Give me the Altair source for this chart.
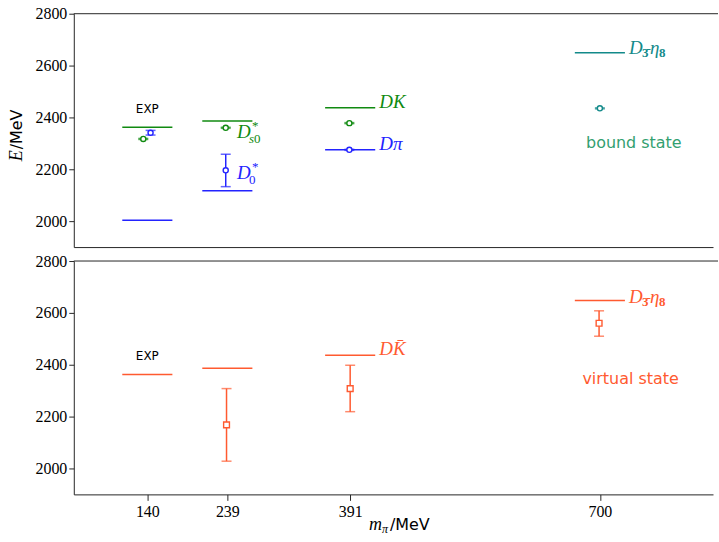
import altair as alt
import pandas as pd

# ---------------- data ----------------
m_pi_ticks = [140, 239, 391, 700]
E_ticks = [2000, 2200, 2400, 2600, 2800]

GREEN = "#108a10"
BLUE = "#2323ff"
TEAL = "#138a8a"
ORANGE = "#ff5a30"
BOUND = "#33a070"

# top panel: thresholds (horizontal lines)
thr_top_x = [140, 140, 239, 239, 391, 391, 700]
thr_top_E = [2362, 2003, 2386, 2117, 2437, 2275, 2649]
thr_top_c = [GREEN, BLUE, GREEN, BLUE, GREEN, BLUE, TEAL]

# top panel: poles with errors
pole_top_x = [135, 144, 237, 237, 390, 390, 700]
pole_top_E = [2317, 2341, 2360, 2196, 2378, 2275, 2435]
pole_top_lo = [2315, 2332, 2358, 2133, 2376, 2273, 2433]
pole_top_hi = [2319, 2350, 2362, 2258, 2380, 2277, 2437]
pole_top_c = [GREEN, BLUE, GREEN, BLUE, GREEN, BLUE, TEAL]

# bottom panel
thr_bot_x = [140, 239, 391, 700]
thr_bot_E = [2362, 2386, 2437, 2648]
pole_bot_x = [238, 391, 699]
pole_bot_E = [2168, 2308, 2560]
pole_bot_lo = [2028, 2219, 2510]
pole_bot_hi = [2308, 2398, 2608]

HALF = 31  # half length of threshold lines (MeV on x axis)

xs = alt.Scale(domain=[49, 840], nice=False, zero=False)
ys = alt.Scale(domain=[1900, 2800], nice=False, zero=False)

W, H = 641, 234
SERIF = "Liberation Serif"
SANS = "DejaVu Sans"
AX = "#262626"

y_axis = alt.Axis(values=E_ticks, format="d", labelFont=SERIF, labelFontSize=16,
                  labelColor="black", tickSize=5, labelPadding=2, grid=False,
                  domainColor=AX, tickColor=AX, title=None, orient="left")
x_axis_bottom = alt.Axis(values=m_pi_ticks, format="d", labelFont=SERIF, labelFontSize=16,
                         labelColor="black", tickSize=6, labelPadding=3, grid=False,
                         domainColor=AX, tickColor=AX, title=None, orient="bottom")
x_axis_top = alt.Axis(labels=False, ticks=False, grid=False, domainColor=AX, title=None,
                      orient="bottom")


def panel(thr_x, thr_E, thr_c, p_x, p_E, p_lo, p_hi, p_c, shape, x_axis, text_specs):
    def X(field):
        return alt.X(field, scale=xs, axis=x_axis)

    def Y(field):
        return alt.Y(field, scale=ys, axis=y_axis)

    col = alt.Color("c:N", scale=None)

    thr = pd.DataFrame({"x1": [v - HALF for v in thr_x], "x2": [v + HALF for v in thr_x],
                        "E": thr_E, "c": thr_c})
    poles = pd.DataFrame({"x": p_x, "E": p_E, "lo": p_lo, "hi": p_hi, "c": p_c})

    layers = [
        alt.Chart(thr).mark_rule(strokeWidth=1.5).encode(
            x=X("x1:Q"), x2="x2:Q", y=Y("E:Q"), color=col),
        alt.Chart(pd.DataFrame({"E": [2800]})).mark_rule(color=AX, strokeWidth=1).encode(
            x=alt.value(0), x2=alt.value(W + 5), y=Y("E:Q")),
        alt.Chart(poles).mark_rule(strokeWidth=1.5).encode(
            x=X("x:Q"), y=Y("lo:Q"), y2="hi:Q", color=col),
        alt.Chart(poles).mark_tick(orient="horizontal", size=10, thickness=1.5).encode(
            x=X("x:Q"), y=Y("lo:Q"), color=col),
        alt.Chart(poles).mark_tick(orient="horizontal", size=10, thickness=1.5).encode(
            x=X("x:Q"), y=Y("hi:Q"), color=col),
        alt.Chart(poles).mark_point(shape=shape, size=26 if shape == "circle" else 34,
                                    filled=False, fill="white", fillOpacity=1,
                                    strokeWidth=1.4, opacity=1).encode(
            x=X("x:Q"), y=Y("E:Q"), color=col),
    ]
    for kind, a, b, text, props in text_specs:
        if kind == "data":
            df = pd.DataFrame({"x": [a], "E": [b], "t": [text]})
            layers.append(alt.Chart(df).mark_text(**props).encode(
                x=X("x:Q"), y=Y("E:Q"), text="t:N"))
        else:
            df = pd.DataFrame({"t": [text]})
            layers.append(alt.Chart(df).mark_text(**props).encode(
                x=alt.value(a), y=alt.value(b), text="t:N"))
    return alt.layer(*layers).properties(width=W, height=H)


def main(x, E, text, color, dx=0):
    return ("data", x, E, text, dict(font=SERIF, fontStyle="italic", fontSize=19, color=color,
                                     align="left", baseline="alphabetic", dx=dx))


def sub(x, E, text, color, dx, dy=5, bold=False, italic=False):
    return ("data", x, E, text, dict(font=SERIF, fontStyle="italic" if italic else "normal",
                                     fontWeight="bold" if bold else "normal", fontSize=13,
                                     color=color, align="left", baseline="alphabetic",
                                     dx=dx, dy=dy))


def label(x, E, text, color, size):
    return ("data", x, E, text, dict(font=SANS, fontSize=size, color=color, align="center",
                                     baseline="middle"))


def fixed(px, py, text, **props):
    return ("fixed", px, py, text, props)


top_texts = [
    label(140, 2433, "EXP", "black", 12),
    main(251, 2322, "D", GREEN),
    sub(251, 2322, "*", GREEN, dx=15, dy=-8),
    sub(251, 2322, "s", GREEN, dx=12, dy=5, italic=True),
    sub(251, 2322, "0", GREEN, dx=17, dy=5),
    main(251, 2161, "D", BLUE),
    sub(251, 2161, "*", BLUE, dx=15, dy=-8),
    sub(251, 2161, "0", BLUE, dx=12, dy=5),
    main(427, 2437, "DK", GREEN),
    main(427, 2276, "Dπ", BLUE),
    main(736, 2645, "D", TEAL),
    sub(736, 2645, "3\u0304", TEAL, dx=13, dy=3, bold=True),
    main(736, 2645, "η", TEAL, dx=21),
    sub(736, 2645, "8", TEAL, dx=30, dy=3, bold=True),
    label(742, 2301, "bound state", BOUND, 16),
    fixed(-57, 148, "E", font=SERIF, fontStyle="italic", fontSize=18, angle=270,
          align="left", baseline="middle", color="black"),
    fixed(-57, 136, "/MeV", font=SANS, fontSize=16, angle=270,
          align="left", baseline="middle", color="black"),
]

bot_texts = [
    label(140, 2432, "EXP", "black", 12),
    main(427, 2438, "DK\u0304", ORANGE),
    main(736, 2640, "D", ORANGE),
    sub(736, 2640, "3\u0304", ORANGE, dx=13, dy=3, bold=True),
    main(736, 2640, "η", ORANGE, dx=21),
    sub(736, 2640, "8", ORANGE, dx=30, dy=3, bold=True),
    label(738, 2345, "virtual state", ORANGE, 16),
    fixed(296, 270, "m", font=SERIF, fontStyle="italic", fontSize=18, align="left",
          baseline="alphabetic", color="black"),
    fixed(309, 273, "π", font=SERIF, fontStyle="italic", fontSize=12, align="left",
          baseline="alphabetic", color="black"),
    fixed(317, 270, "/MeV", font=SANS, fontSize=16, align="left",
          baseline="alphabetic", color="black"),
]

top = panel(thr_top_x, thr_top_E, thr_top_c, pole_top_x, pole_top_E, pole_top_lo,
            pole_top_hi, pole_top_c, "circle", x_axis_top, top_texts)
bottom = panel(thr_bot_x, thr_bot_E, [ORANGE] * len(thr_bot_x), pole_bot_x, pole_bot_E,
               pole_bot_lo, pole_bot_hi, [ORANGE] * len(pole_bot_x), "square",
               x_axis_bottom, bot_texts)

chart = alt.vconcat(top, bottom, spacing=6).properties(
    padding={"left": 8, "top": 5, "right": 0, "bottom": 5}
).configure_view(strokeWidth=0, stroke="transparent")

chart.save("out.html", embed_options={"renderer": "svg", "actions": False})
